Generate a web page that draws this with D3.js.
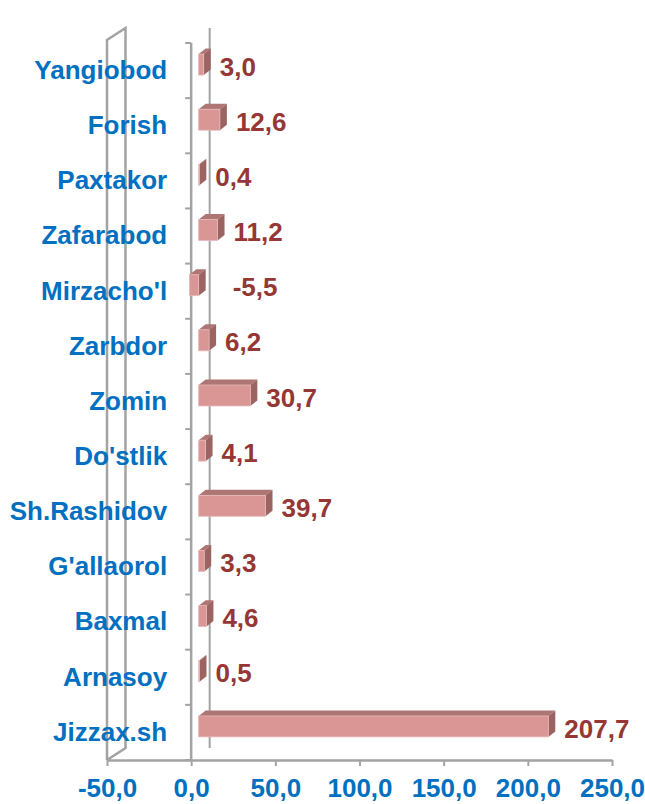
<!DOCTYPE html>
<html>
<head>
<meta charset="utf-8">
<script src="https://cdn.jsdelivr.net/npm/d3@7"></script>
<style>
  body { margin: 0; background: #fff; }
  text { font-family: "Liberation Sans", Arial, sans-serif; font-weight: bold; }
</style>
</head>
<body>
<div id="chart"></div>
<script>
var categories = ["Yangiobod", "Forish", "Paxtakor", "Zafarabod", "Mirzacho'l", "Zarbdor", "Zomin",
                  "Do'stlik", "Sh.Rashidov", "G'allaorol", "Baxmal", "Arnasoy", "Jizzax.sh"];
var values = [3.0, 12.6, 0.4, 11.2, -5.5, 6.2, 30.7, 4.1, 39.7, 3.3, 4.6, 0.5, 207.7];
var tickValues = [-50, 0, 50, 100, 150, 200, 250];

var locale = d3.formatLocale({decimal: ",", thousands: " ", grouping: [3], currency: ["", ""], minus: "-"});
var fmt = locale.format(".1f");

var margin = {top: 43, right: 33, bottom: 44, left: 107},
    width = 645 - margin.left - margin.right,
    height = 804 - margin.top - margin.bottom;

// oblique depth of the plot box and of each bar
var DX = 18.5, DY = -12;
var barOff = {x: 7.5, y: -6};
var barDepth = {x: 7, y: -5.5};
var gray = "#a3a3a3";

var svg = d3.select("#chart")
  .append("svg")
    .attr("width", 645)
    .attr("height", 804)
  .append("g")
    .attr("transform", "translate(" + margin.left + "," + margin.top + ")");

var x = d3.scaleLinear()
  .domain([d3.min(tickValues), d3.max(tickValues)])
  .range([0, width]);

var y = d3.scaleBand()
  .domain(categories)
  .range([0, height])
  .paddingInner(0)
  .paddingOuter(0);

// left wall outline
var wx = x(-50);
svg.append("path")
  .attr("d", "M" + wx + "," + height + "V-3L" + (wx + DX) + "," + (-3 + DY) +
             "V" + (height + DY) + "L" + wx + "," + height)
  .attr("fill", "none")
  .attr("stroke", gray)
  .attr("stroke-width", 2.5);

// back gridline at zero
svg.append("line")
  .attr("x1", x(0) + DX).attr("x2", x(0) + DX)
  .attr("y1", DY - 3).attr("y2", height + DY)
  .attr("stroke", gray)
  .attr("stroke-width", 2);

// x axis
var xAxis = svg.append("g")
  .attr("transform", "translate(0," + height + ")")
  .call(d3.axisBottom(x)
    .tickValues(tickValues)
    .tickFormat(fmt)
    .tickSize(6)
    .tickSizeOuter(0)
    .tickPadding(13));
xAxis.select(".domain").attr("stroke", gray).attr("stroke-width", 2.5);
xAxis.selectAll(".tick line").attr("stroke", gray).attr("stroke-width", 2);
xAxis.selectAll("text")
  .attr("fill", "#0070C0")
  .style("font-size", "26px");

// category axis at zero (front)
svg.append("line")
  .attr("x1", x(0)).attr("x2", x(0))
  .attr("y1", 0).attr("y2", height)
  .attr("stroke", gray)
  .attr("stroke-width", 2.5);

svg.selectAll(".catTick")
  .data(categories.map(function(c) { return y(c); }).concat([height]))
  .enter()
  .append("line")
  .attr("class", "catTick")
  .attr("x1", x(0) - 6).attr("x2", x(0))
  .attr("y1", function(d) { return d; })
  .attr("y2", function(d) { return d; })
  .attr("stroke", gray)
  .attr("stroke-width", 2);

var yAxis = svg.append("g")
  .attr("transform", "translate(" + x(0) + ",0)")
  .call(d3.axisLeft(y).tickSize(0).tickPadding(24));
yAxis.select(".domain").remove();
yAxis.selectAll("text")
  .attr("fill", "#0070C0")
  .style("font-size", "26px");

// bars
var data = categories.map(function(c, i) { return {cat: c, val: values[i]}; });
var barH = y.bandwidth() * 0.38;

var bars = svg.selectAll(".bar")
  .data(data)
  .enter()
  .append("g")
  .attr("class", "bar");

function geom(d) {
  var x0 = x(Math.min(0, d.val)) + barOff.x,
      x1 = x(Math.max(0, d.val)) + barOff.x,
      yt = y(d.cat) + y.bandwidth() / 2 + barOff.y - barH / 2,
      yb = yt + barH;
  return {x0: x0, x1: x1, yt: yt, yb: yb};
}

bars.append("path")
  .attr("d", function(d) {
    var g = geom(d);
    return "M" + g.x0 + "," + g.yt + "L" + (g.x0 + barDepth.x) + "," + (g.yt + barDepth.y) +
           "L" + (g.x1 + barDepth.x) + "," + (g.yt + barDepth.y) + "L" + g.x1 + "," + g.yt + "Z";
  })
  .attr("fill", "#ad7573");

bars.append("path")
  .attr("d", function(d) {
    var g = geom(d);
    return "M" + g.x1 + "," + g.yt + "L" + (g.x1 + barDepth.x) + "," + (g.yt + barDepth.y) +
           "L" + (g.x1 + barDepth.x) + "," + (g.yb + barDepth.y) + "L" + g.x1 + "," + g.yb + "Z";
  })
  .attr("fill", "#9b6361");

bars.append("rect")
  .attr("x", function(d) { return geom(d).x0; })
  .attr("y", function(d) { return geom(d).yt; })
  .attr("width", function(d) { var g = geom(d); return g.x1 - g.x0; })
  .attr("height", barH)
  .attr("fill", "#d99694")
  .attr("stroke", "#e6b9b8")
  .attr("stroke-width", 0.8);

// value labels
bars.append("text")
  .attr("x", function(d) {
    var g = geom(d);
    return g.x1 + barDepth.x + 9 + (d.val < 0 ? 18 : 0);
  })
  .attr("y", function(d) { return y(d.cat) + y.bandwidth() / 2 - 4; })
  .attr("dy", "0.35em")
  .attr("fill", "#953735")
  .style("font-size", "26px")
  .text(function(d) { return fmt(d.val); });
</script>
</body>
</html>
